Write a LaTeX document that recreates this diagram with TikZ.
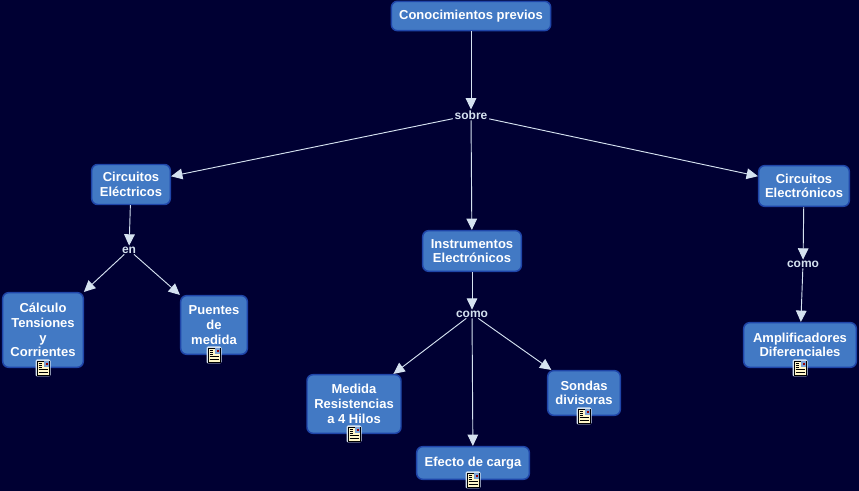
\documentclass[tikz,border=0pt]{standalone}
\usepackage{fontspec}
\setmainfont{Liberation Sans}
\usetikzlibrary{positioning}
\usetikzlibrary{arrows.meta}

\definecolor{bgnavy}{HTML}{000033}
\definecolor{boxblue}{HTML}{4279C4}
\definecolor{boxline}{HTML}{1F45A8}
\definecolor{linkpale}{HTML}{D5E2F0}
\definecolor{notecream}{HTML}{FFF6C8}

\tikzset{
  concept/.style={draw=boxline, line width=1.1pt, fill=boxblue, rounded corners=4.5pt,
    text=white, font=\fontsize{9.75}{11}\selectfont\bfseries, align=center,
    inner sep=0pt, anchor=center},
  linking/.style={text=linkpale, font=\fontsize{9}{10}\selectfont\bfseries,
    fill=bgnavy, inner xsep=1.2pt, inner ysep=0.6pt},
  link/.style={draw=linkpale, line width=0.7pt, -{Triangle[length=8.5pt,width=8pt]}},
  pics/docicon/.style={code={
    \fill[linkpale, rounded corners=1pt] (-7.5,-8.5) rectangle (7.5,8.5);
    \fill[notecream, draw=black, line width=0.7pt] (-6,-7) rectangle (6,7);
    \fill[boxblue!70] (0.5,0.5) rectangle (5.5,6.5);
    \fill[red!60!black] (2.8,3) rectangle (4.6,4.8);
    \foreach \ypos in {1,3,5} \draw[black, line width=0.7pt] (-4.5,\ypos) -- (-0.8,\ypos);
    \draw[black, line width=0.7pt] (-4.5,-1.5) -- (4.5,-1.5);
    \draw[black, line width=0.7pt] (-4.5,-4) -- (4.5,-4);
  }}
}

\begin{document}
\begin{tikzpicture}[x=0.75pt, y=0.75pt]
  \useasboundingbox (0,0) rectangle (859,491);
  \fill[bgnavy] (0,0) rectangle (859,491);

  % Concepts
  \node[concept, minimum width=119.5pt, minimum height=22pt] (previos) at (471,475) {Conocimientos previos};
  \node[concept, minimum width=59pt, minimum height=30pt] (electricos) at (131,306.5) {Circuitos\\Eléctricos};
  \node[concept, minimum width=74pt, minimum height=30.5pt] (instrumentos) at (472,240) {Instrumentos\\Electrónicos};
  \node[concept, minimum width=68pt, minimum height=30.5pt] (electronicos) at (804,305) {Circuitos\\Electrónicos};
  \node[concept, minimum width=60.5pt, minimum height=56pt] (calculo) at (43,161) {Cálculo\\Tensiones\\y\\Corrientes};
  \node[concept, minimum width=50pt, minimum height=44pt] (puentes) at (214,166) {Puentes\\de\\medida};
  \node[concept, minimum width=70.5pt, minimum height=44pt] (medida) at (354,87) {Medida\\Resistencias\\a 4 Hilos};
  \node[concept, minimum width=54.5pt, minimum height=33.5pt] (sondas) at (584,98) {Sondas\\divisoras};
  \node[concept, minimum width=84.5pt, minimum height=24.5pt] (efecto) at (473,28) {Efecto de carga};
  \node[concept, minimum width=84.5pt, minimum height=33.5pt] (amplificadores) at (800,146) {Amplificadores\\Diferenciales};

  % Linking words
  \node[linking] (sobre) at (471,376) {sobre};
  \node[linking] (en) at (129,241) {en};
  \node[linking] (como) at (472,177) {como};
  \node[linking] (comob) at (803,227) {como};

  % Connectors
  \draw[link] (previos) -- (sobre);
  \draw[link] (sobre) -- (electricos);
  \draw[link] (sobre) -- (instrumentos);
  \draw[link] (sobre) -- (electronicos);
  \draw[link] (electricos) -- (en);
  \draw[link] (en) -- (calculo);
  \draw[link] (en) -- (puentes);
  \draw[link] (instrumentos) -- (como);
  \draw[link] (como) -- (medida);
  \draw[link] (como) -- (sondas);
  \draw[link] (como) -- (efecto);
  \draw[link] (electronicos) -- (comob);
  \draw[link] (comob) -- (amplificadores);

  % Note icons
  \pic at (43,123) {docicon};
  \pic at (214,136) {docicon};
  \pic at (354,57) {docicon};
  \pic at (584,75) {docicon};
  \pic at (473,11) {docicon};
  \pic at (800,123) {docicon};
\end{tikzpicture}
\end{document}
